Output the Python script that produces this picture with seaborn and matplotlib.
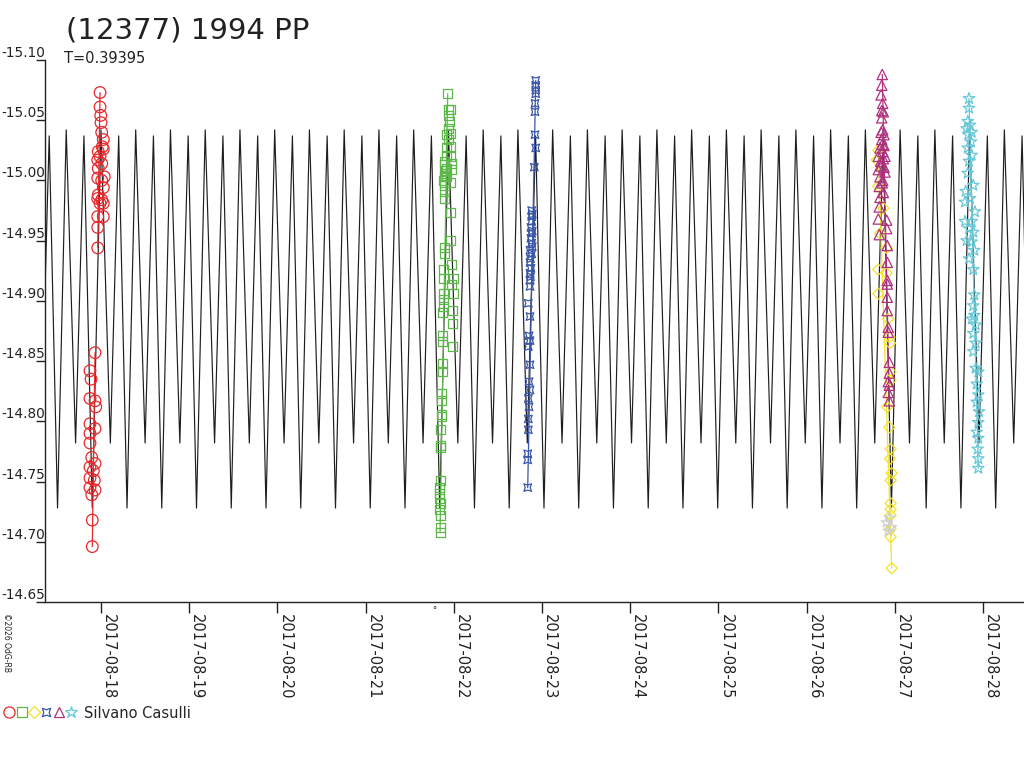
import numpy as np
import pandas as pd
import seaborn as sns
import matplotlib.pyplot as plt
import matplotlib.dates as mdates
from matplotlib.lines import Line2D
from matplotlib.legend_handler import HandlerTuple
from matplotlib.path import Path
from matplotlib.ticker import MultipleLocator, FormatStrFormatter

# --- data (days are decimal days of August 2017) ---
title = '(12377) 1994 PP'
period = 0.39395
epoch_min = 18.295          # a deep minimum of the fitted curve
model_phase = [0.0, 0.25, 0.52, 0.76]
model_mag = [-14.728, -15.042, -14.782, -15.037]

red_a_day = [17.901, 17.901, 17.895, 17.932, 17.875, 17.924, 17.875, 17.913, 17.875, 17.932, 17.895,
             17.875, 17.875, 17.932, 17.875, 17.940, 17.875, 17.932, 17.887, 17.875, 17.932]
red_a_mag = [-14.696, -14.718, -14.739, -14.743, -14.745, -14.751, -14.753, -14.759, -14.762, -14.765, -14.770,
             -14.782, -14.790, -14.794, -14.798, -14.812, -14.819, -14.817, -14.835, -14.842, -14.857]
red_b_day = [17.963, 17.963, 18.026, 17.963, 18.026, 17.989, 18.008, 17.963, 17.969, 18.026, 18.008, 17.963, 18.037,
             17.969, 18.008, 17.963, 17.989, 17.969, 18.026, 18.015, 18.026, 18.008, 18.000, 17.997, 17.989, 17.989]
red_b_mag = [-14.944, -14.961, -14.970, -14.970, -14.981, -14.981, -14.984, -14.985, -14.988, -14.994, -15.000,
             -15.002, -15.003, -15.010, -15.014, -15.017, -15.020, -15.024, -15.026, -15.028, -15.034, -15.040,
             -15.048, -15.054, -15.061, -15.073]

green_day = [21.931, 21.938, 21.957, 21.938, 21.949, 21.938, 21.957, 21.920, 21.938, 21.965, 21.920, 21.912, 21.957,
             21.976, 21.889, 21.920, 21.976, 21.889, 21.920, 21.881, 21.957, 21.900, 21.889, 21.957, 21.965, 21.900,
             21.900, 21.976, 21.881, 21.881, 21.994, 21.976, 21.881, 21.994, 21.881, 21.881, 21.987, 21.874, 21.987,
             21.874, 21.874, 21.987, 21.874, 21.874, 21.863, 21.863, 21.863, 21.863, 21.851, 21.851, 21.851, 21.851,
             21.836, 21.836, 21.836, 21.844, 21.836, 21.851, 21.844, 21.844, 21.893, 21.897, 21.893, 21.905]
green_mag = [-15.072, -15.059, -15.059, -15.054, -15.049, -15.043, -15.039, -15.038, -15.034, -15.028, -15.027,
             -15.021, -15.020, -15.014, -15.013, -15.010, -15.009, -15.006, -15.003, -15.000, -14.998, -14.991,
             -14.985, -14.973, -14.950, -14.944, -14.939, -14.930, -14.926, -14.919, -14.919, -14.914, -14.906,
             -14.906, -14.901, -14.895, -14.892, -14.890, -14.881, -14.871, -14.866, -14.862, -14.848, -14.841,
             -14.823, -14.817, -14.806, -14.804, -14.793, -14.780, -14.778, -14.751, -14.745, -14.740, -14.736,
             -14.732, -14.727, -14.722, -14.712, -14.708, -15.016, -15.004, -14.996, -15.008]

blue_day = [22.929, 22.929, 22.929, 22.929, 22.921, 22.921, 22.921, 22.929, 22.913, 22.883, 22.883, 22.883, 22.875,
            22.883, 22.875, 22.883, 22.864, 22.883, 22.864, 22.875, 22.864, 22.864, 22.864, 22.845, 22.864, 22.853,
            22.864, 22.845, 22.864, 22.853, 22.864, 22.845, 22.853, 22.845, 22.845, 22.838, 22.838, 22.838,
            22.889, 22.889, 22.889, 22.870, 22.870]
blue_mag = [-15.083, -15.079, -15.075, -15.072, -15.064, -15.057, -15.038, -15.027, -15.011, -14.975, -14.970,
            -14.966, -14.961, -14.956, -14.952, -14.948, -14.942, -14.939, -14.932, -14.927, -14.923, -14.917,
            -14.912, -14.898, -14.887, -14.871, -14.867, -14.862, -14.847, -14.833, -14.826, -14.819, -14.812,
            -14.802, -14.793, -14.773, -14.768, -14.745, -14.972, -14.958, -14.945, -14.935, -14.920]

magenta_day = [26.858, 26.852, 26.844, 26.863, 26.852, 26.870, 26.852, 26.863, 26.878, 26.852, 26.878, 26.832,
               26.863, 26.813, 26.889, 26.840, 26.878, 26.813, 26.889, 26.832, 26.863, 26.824, 26.832, 26.824,
               26.813, 26.908, 26.908, 26.824, 26.915, 26.915, 26.915, 26.915, 26.915, 26.915, 26.926, 26.926,
               26.938, 26.938, 26.926, 26.938, 26.926, 26.938, 26.845, 26.858, 26.870, 26.845, 26.858, 26.870]
magenta_mag = [-15.088, -15.079, -15.071, -15.064, -15.058, -15.057, -15.052, -15.042, -15.038, -15.034, -15.029,
               -15.027, -15.024, -15.020, -15.020, -15.016, -15.011, -15.009, -15.007, -15.003, -15.000, -14.995,
               -14.986, -14.978, -14.968, -14.967, -14.960, -14.955, -14.946, -14.932, -14.917, -14.914, -14.903,
               -14.892, -14.878, -14.874, -14.849, -14.840, -14.833, -14.830, -14.824, -14.817, -15.040, -15.030,
               -15.018, -15.012, -14.998, -14.990]

yellow_day = [26.813, 26.795, 26.813, 26.870, 26.832, 26.908, 26.813, 26.908, 26.813, 26.926, 26.938, 26.946,
              26.953, 26.953, 26.915, 26.938, 26.953, 26.946, 26.965, 26.953, 26.953, 26.953, 26.953, 26.953,
              26.953, 26.965]
yellow_mag = [-15.025, -15.017, -14.995, -14.977, -14.956, -14.944, -14.926, -14.923, -14.906, -14.885, -14.870,
              -14.865, -14.841, -14.834, -14.812, -14.795, -14.777, -14.769, -14.757, -14.751, -14.732, -14.727,
              -14.722, -14.711, -14.704, -14.678]

grey_day = [26.938, 26.904, 26.960, 26.926]
grey_mag = [-14.720, -14.716, -14.712, -14.709]

cyan_day = [27.841, 27.841, 27.827, 27.853, 27.815, 27.872, 27.833, 27.864, 27.827, 27.872, 27.841, 27.827, 27.890,
            27.804, 27.853, 27.796, 27.909, 27.796, 27.872, 27.841, 27.890, 27.815, 27.872, 27.901, 27.841, 27.890,
            27.901, 27.890, 27.901, 27.872, 27.917, 27.890, 27.917, 27.890, 27.917, 27.947, 27.929, 27.947, 27.929,
            27.955, 27.947, 27.929, 27.947, 27.940, 27.947, 27.947]
cyan_mag = [-15.068, -15.060, -15.049, -15.046, -15.043, -15.040, -15.038, -15.032, -15.027, -15.021, -15.016,
            -15.006, -14.996, -14.991, -14.985, -14.982, -14.974, -14.966, -14.966, -14.960, -14.957, -14.950,
            -14.949, -14.942, -14.935, -14.926, -14.905, -14.896, -14.888, -14.885, -14.880, -14.873, -14.865,
            -14.858, -14.844, -14.841, -14.831, -14.822, -14.816, -14.808, -14.799, -14.791, -14.786, -14.777,
            -14.769, -14.761]

observer = 'Silvano Casulli'
x_range = [17.365, 28.465]
y_range = [-14.65, -15.10]


def aug(days):
    return pd.Timestamp('2017-08-01') + pd.to_timedelta(np.asarray(days, dtype=float) - 1.0, unit='D')


# blue "boxed" marker
blue_marker = Path([(-1, -1), (0, -0.65), (1, -1), (0.65, 0), (1, 1), (0, 0.65), (-1, 1), (-0.65, 0), (-1, -1)],
                   [Path.MOVETO] + [Path.LINETO] * 7 + [Path.CLOSEPOLY])

sessions = [
    (red_a_day, red_a_mag, '#e8282c', 'o', 70),
    (red_b_day, red_b_mag, '#e8282c', 'o', 70),
    (green_day, green_mag, '#5cb848', 's', 42),
    (blue_day, blue_mag, '#3a56a8', blue_marker, 30),
    (yellow_day, yellow_mag, '#f2e22a', 'D', 32),
    (grey_day, grey_mag, '#cfcfcf', '*', 60),
    (magenta_day, magenta_mag, '#b0307e', '^', 55),
    (cyan_day, cyan_mag, '#66c8d8', '*', 75),
]

sns.set_style('white')
plt.rcParams['font.family'] = ['DejaVu Sans']

fig = plt.figure(figsize=(10.24, 7.68), dpi=100)
ax = fig.add_axes([45 / 1024, 166 / 768, 979 / 1024, 542 / 768])

# fitted model curve, repeated with the rotation period
cycles = np.arange(-3, 30)
model_t = (epoch_min + period * (cycles[:, None] + np.array(model_phase)[None, :])).ravel()
model_m = np.tile(model_mag, len(cycles))
model_df = pd.DataFrame({'time': aug(model_t), 'mag': model_m})
sns.lineplot(data=model_df, x='time', y='mag', color='#1e1e1e', linewidth=0.85, estimator=None, ax=ax, zorder=2)

for days, mags, col, mk, size in sessions:
    df = pd.DataFrame({'time': aug(days), 'mag': mags})
    faint = df.loc[df['mag'].idxmax()]
    bright = df.loc[df['mag'].idxmin()]
    ax.plot([faint['time'], bright['time']], [faint['mag'], bright['mag']], color=col, lw=0.9, zorder=3)
    sns.scatterplot(data=df, x='time', y='mag', marker=mk, s=size, facecolor='none', edgecolor=col,
                    color=col, linewidth=0.9, ax=ax, zorder=4)

ax.set_xlim(aug(x_range))
ax.set_ylim(y_range)
ax.set_xlabel('')
ax.set_ylabel('')

ax.yaxis.set_major_locator(MultipleLocator(0.05))
ax.yaxis.set_major_formatter(FormatStrFormatter('%.2f'))
ax.xaxis.set_major_locator(mdates.DayLocator())
ax.xaxis.set_major_formatter(mdates.DateFormatter('%Y-%m-%d'))

for s in ['top', 'right']:
    ax.spines[s].set_visible(False)
for s in ['left', 'bottom']:
    ax.spines[s].set_color('#222222')
    ax.spines[s].set_linewidth(1.0)

ax.tick_params(axis='y', direction='out', length=6.5, width=1.0, pad=-6.5, labelsize=9.8,
               colors='#222222', left=True)
ax.tick_params(axis='x', direction='out', length=8, width=1.0, pad=1, labelsize=10.5,
               colors='#222222', bottom=True)
for t in ax.yaxis.get_major_ticks():
    t.label1.set_verticalalignment('bottom')
plt.setp(ax.get_xticklabels(), rotation=-90, ha='left', va='top')

fig.text(66 / 1024, 1 - 38 / 768, title, fontsize=21, va='baseline', ha='left', color='#222222')
fig.text(64 / 1024, 1 - 63 / 768, 'T=%.5f' % period, fontsize=10.5, va='baseline', ha='left', color='#222222')
fig.text(2 / 1024, 1 - 613 / 768, '\u00a92026 OdG-RB', rotation=-90, fontsize=5.5, ha='left', va='top',
         color='#222222')
fig.text(432 / 1024, 1 - 611 / 768, '\u00b0', fontsize=6, ha='left', va='center', color='#222222')

# legend: one marker per session of the same observer
handles = [
    Line2D([], [], ls='none', marker='o', ms=8, mfc='none', mec='#e8282c', mew=0.9),
    Line2D([], [], ls='none', marker='s', ms=6.5, mfc='none', mec='#5cb848', mew=0.9),
    Line2D([], [], ls='none', marker='D', ms=6, mfc='none', mec='#f2e22a', mew=0.9),
    Line2D([], [], ls='none', marker=blue_marker, ms=6, mfc='none', mec='#3a56a8', mew=0.9),
    Line2D([], [], ls='none', marker='^', ms=7.5, mfc='none', mec='#b0307e', mew=0.9),
    Line2D([], [], ls='none', marker='*', ms=9, mfc='none', mec='#66c8d8', mew=0.9),
]
fig.legend([tuple(handles)], [observer], handler_map={tuple: HandlerTuple(ndivide=None, pad=0.0)},
           loc='center left', bbox_to_anchor=(3 / 1024, 1 - 713 / 768), frameon=False, fontsize=10.5,
           handlelength=5.1, handletextpad=0.45, borderpad=0, borderaxespad=0)

fig.savefig('out.png', dpi=100)
